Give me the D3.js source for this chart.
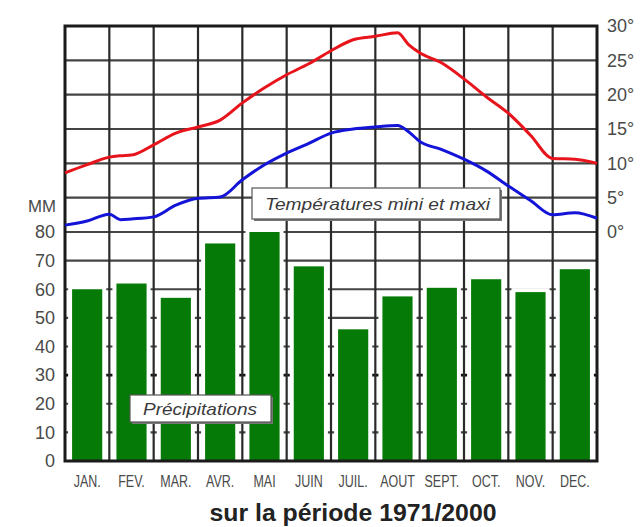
<!DOCTYPE html>
<html><head><meta charset="utf-8">
<script src="https://cdn.jsdelivr.net/npm/d3@7"></script>
<style>
html,body{margin:0;padding:0;background:#fff;}
svg{display:block;}
text{font-family:"Liberation Sans",Arial,sans-serif;}
</style></head>
<body>
<svg id="c" width="642" height="527"></svg>
<script>
// ---- data ----
const months = ["JAN.","FEV.","MAR.","AVR.","MAI","JUIN","JUIL.","AOUT","SEPT.","OCT.","NOV.","DEC."];
const precip = [60,62,57,76,80,68,46,57.5,60.5,63.5,59,67];
// temperature curves: position in months (0 = start of Jan, 12 = end of Dec)
const tPos = [0,0.5,1,1.25,1.5,2,2.5,3,3.5,4,4.5,5,5.5,6,6.5,7,7.5,7.75,8,8.5,9,9.5,10,10.5,11,11.5,12];
const tMax = [8.6,9.8,10.9,11.1,11.2,12.7,14.4,15.3,16.3,18.8,21,22.9,24.5,26.4,28,28.5,29,27.3,26.1,24.6,22.3,19.7,17.3,14.1,10.7,10.6,10.0];
const tMin = [1.0,1.6,2.6,1.8,1.9,2.2,3.9,4.9,5.1,7.6,9.8,11.5,12.9,14.4,15.0,15.3,15.5,14.6,13.2,12.0,10.6,8.9,6.7,4.6,2.5,2.8,2.0];
const mmTicks = [0,10,20,30,40,50,60,70,80];
const tTicks = [0,5,10,15,20,25,30];

// ---- layout ----
const L = 65, R = 597, T = 26, B = 461, Y80 = 232;
const svg = d3.select("#c");
const xc = d3.scaleLinear().domain([0,12]).range([L,R]);
const xb = d3.scaleBand().domain(months).range([L,R]).paddingInner(0.32).paddingOuter(0.16);
const yP = d3.scaleLinear().domain([0,80]).range([B,Y80]);
const yT = d3.scaleLinear().domain([0,30]).range([Y80,T]);

// ---- grid ----
const g = svg.append("g");
g.selectAll(".hu").data(tTicks).join("line")
  .attr("x1",L).attr("x2",R).attr("y1",d=>yT(d)).attr("y2",d=>yT(d))
  .attr("stroke","#444").attr("stroke-width",2.2);
g.selectAll(".hl").data(mmTicks.filter(d=>d>0)).join("line")
  .attr("x1",L).attr("x2",R).attr("y1",d=>yP(d)).attr("y2",d=>yP(d))
  .attr("stroke",d=>d===30?"#111":"#444").attr("stroke-width",d=>d===30?2.6:2.2);
g.selectAll(".v").data(d3.range(1,12)).join("line")
  .attr("x1",d=>xc(d)).attr("x2",d=>xc(d)).attr("y1",T).attr("y2",B)
  .attr("stroke","#2a2a2a").attr("stroke-width",2.2);

// ---- bars ----
svg.append("g").selectAll("rect").data(months).join("rect")
  .attr("x",d=>xb(d)-4).attr("width",xb.bandwidth()+8)
  .attr("y",(d,i)=>yP(precip[i])-4).attr("height",(d,i)=>B-yP(precip[i])+4)
  .attr("fill","#fff");
svg.append("g").selectAll("rect").data(months).join("rect")
  .attr("x",d=>xb(d)).attr("width",xb.bandwidth())
  .attr("y",(d,i)=>yP(precip[i])).attr("height",(d,i)=>B-yP(precip[i]))
  .attr("fill","#067a06");

// ---- frame ----
svg.append("rect").attr("x",L).attr("y",T).attr("width",R-L).attr("height",B-T)
  .attr("fill","none").attr("stroke","#1a1a1a").attr("stroke-width",3);

// ---- temperature lines ----
const line = d3.line().x((d,i)=>xc(tPos[i])).y(d=>yT(d)).curve(d3.curveMonotoneX);
svg.append("path").datum(tMax).attr("d",line).attr("fill","none")
  .attr("stroke","#e8141c").attr("stroke-width",3).attr("stroke-linejoin","round");
svg.append("path").datum(tMin).attr("d",line).attr("fill","none")
  .attr("stroke","#1414d8").attr("stroke-width",3).attr("stroke-linejoin","round");

// ---- label boxes ----
function box(x,y,w,h,label,tx,tl){
  svg.append("rect").attr("x",x+2).attr("y",y+2).attr("width",w).attr("height",h).attr("fill","#777");
  svg.append("rect").attr("x",x).attr("y",y).attr("width",w).attr("height",h)
    .attr("fill","#fff").attr("stroke","#555").attr("stroke-width",1.2);
  svg.append("text").attr("x",tx).attr("y",y+h/2+6).text(label)
    .attr("font-size",17).attr("font-style","italic").attr("fill","#3a3a3a")
    .attr("textLength",tl).attr("lengthAdjust","spacingAndGlyphs");
}
box(252,188,248,31,"Températures mini et maxi",265,225);
box(130,395,141,27,"Précipitations",143,114);

// ---- axes ----
const axL = svg.append("g").attr("transform",`translate(${L},0)`)
  .call(d3.axisLeft(yP).tickValues(mmTicks).tickSize(0).tickPadding(10));
axL.select(".domain").remove();
axL.selectAll("text").attr("font-size",18).attr("fill","#4a4a4a").attr("font-family","Liberation Sans, Arial, sans-serif");
svg.append("text").attr("x",56).attr("y",212).attr("text-anchor","end").text("MM")
  .attr("font-size",17).attr("fill","#4a4a4a").attr("textLength",28).attr("lengthAdjust","spacingAndGlyphs");

const axR = svg.append("g").attr("transform",`translate(${R},0)`)
  .call(d3.axisRight(yT).tickValues(tTicks).tickFormat(d=>d+"°").tickSize(0).tickPadding(10));
axR.select(".domain").remove();
axR.selectAll("text").attr("font-size",18).attr("fill","#4a4a4a").attr("font-family","Liberation Sans, Arial, sans-serif");

const axB = svg.append("g").attr("transform",`translate(0,${B})`)
  .call(d3.axisBottom(xb).tickSize(0).tickPadding(15));
axB.select(".domain").remove();
axB.selectAll("text").attr("font-size",16).attr("fill","#4a4a4a")
  .attr("font-family","Liberation Sans, Arial, sans-serif")
  .each(function(){
    const w = this.getComputedTextLength();
    d3.select(this).attr("textLength", w*0.78).attr("lengthAdjust","spacingAndGlyphs");
  });

// title
svg.append("text").attr("x",353).attr("y",521).attr("text-anchor","middle")
  .text("sur la période 1971/2000").attr("font-size",23).attr("font-weight","bold").attr("fill","#222")
  .attr("textLength",287).attr("lengthAdjust","spacingAndGlyphs");
</script>
</body></html>
